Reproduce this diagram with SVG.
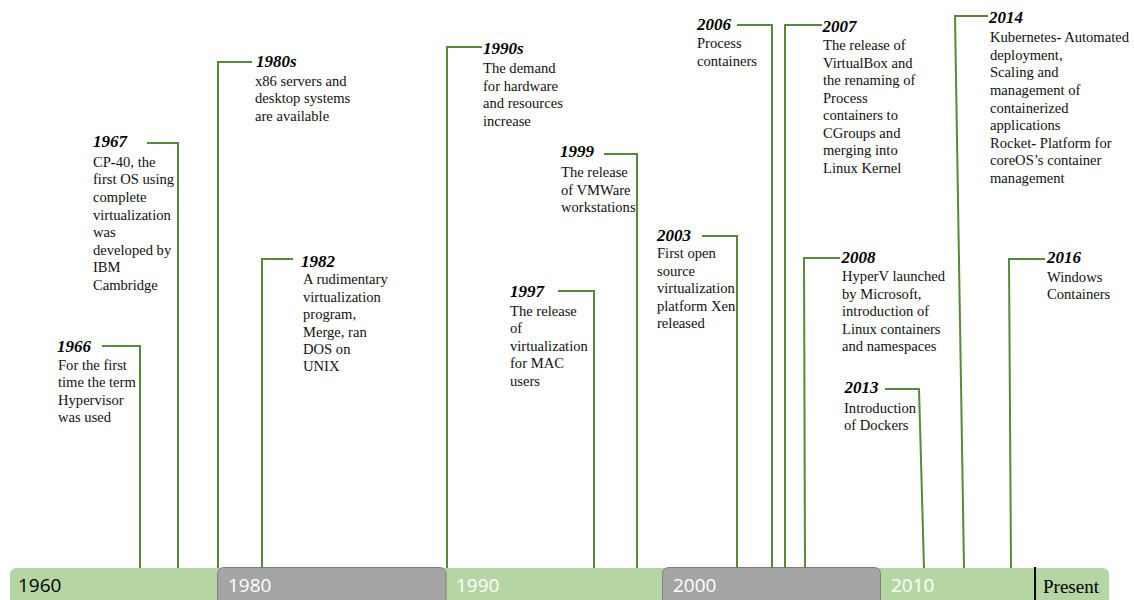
<svg xmlns="http://www.w3.org/2000/svg" width="1134" height="600" viewBox="0 0 1134 600">
<style>
.yr{font-family:"Liberation Serif",serif;font-size:17px;font-weight:bold;font-style:italic;fill:#000}
.bd{font-family:"Liberation Serif",serif;font-size:14.6px;fill:#111}
.cn{fill:none;stroke:#578a38;stroke-width:2}
.bl{font-family:"Open Sans",sans-serif;font-size:19px}
.g{fill:#b5d6a2}
.gr{fill:#a5a5a5;stroke:#7f7f7f;stroke-width:1}
</style>
<rect width="1134" height="600" fill="#fff"/>
<g id="timeline-bar">
<rect class="g" x="10" y="568" width="230" height="45" rx="6"/>
<rect class="g" x="430" y="568" width="250" height="45" rx="6"/>
<rect class="g" x="860" y="568" width="249" height="45" rx="6"/>
<rect class="gr" x="217.5" y="567.5" width="228.5" height="45" rx="6"/>
<rect class="gr" x="662.5" y="567.5" width="218" height="45" rx="6"/>
<line x1="1035" y1="567" x2="1035" y2="600" stroke="#000" stroke-width="2"/>
<text class="bl" x="18" y="592" fill="#000">1960</text>
<text class="bl" x="228" y="592" fill="#fff">1980</text>
<text class="bl" x="456" y="592" fill="#fff">1990</text>
<text class="bl" x="673" y="592" fill="#fff">2000</text>
<text class="bl" x="891" y="592" fill="#fff">2010</text>
<text x="1043" y="592.5" font-family="Liberation Serif, serif" font-size="19" fill="#000">Present</text>
</g>
<g id="connectors">
<path class="cn" d="M102,346 H140 V568"/>
<path class="cn" d="M147,143 H178 V568"/>
<path class="cn" d="M252,62 H218 V568"/>
<path class="cn" d="M293,259 H262 V568"/>
<path class="cn" d="M482,47 H447 V568"/>
<path class="cn" d="M558,291 H594 V568"/>
<path class="cn" d="M604,154 H637 V568"/>
<path class="cn" d="M702,236 H737 V568"/>
<path class="cn" d="M737,25 H772 V568"/>
<path class="cn" d="M822,25 H785 V568"/>
<path class="cn" d="M840,258 H804 L805,568"/>
<path class="cn" d="M885,389 H919 L924,568"/>
<path class="cn" d="M988,16 H955 L964,568"/>
<path class="cn" d="M1045,259 H1009 L1011,568"/>
</g>
<g id="e1966">
<text class="yr" x="57" y="352">1966</text>
<text class="bd" x="58" y="369.5"><tspan x="58">For the first</tspan><tspan x="58" dy="17.5">time the term</tspan><tspan x="58" dy="17.5">Hypervisor</tspan><tspan x="58" dy="17.5">was used</tspan></text>
</g>
<g id="e1967">
<text class="yr" x="93" y="147">1967</text>
<text class="bd" y="166.7"><tspan x="93">CP<tspan font-weight="bold">-</tspan>40, the</tspan><tspan x="93" dy="17.6">first OS using</tspan><tspan x="93" dy="17.6">complete</tspan><tspan x="93" dy="17.6">virtualization</tspan><tspan x="93" dy="17.6">was</tspan><tspan x="93" dy="17.6">developed by</tspan><tspan x="93" dy="17.6">IBM</tspan><tspan x="93" dy="17.6">Cambridge</tspan></text>
</g>
<g id="e1980s">
<text class="yr" x="256" y="67">1980s</text>
<text class="bd" y="86"><tspan x="255">x86 servers and</tspan><tspan x="255" dy="17.4">desktop systems</tspan><tspan x="255" dy="17.4">are available</tspan></text>
</g>
<g id="e1982">
<text class="yr" x="301" y="266.5">1982</text>
<text class="bd" y="284.3"><tspan x="303">A rudimentary</tspan><tspan x="303" dy="17.4">virtualization</tspan><tspan x="303" dy="17.4">program,</tspan><tspan x="303" dy="17.4">Merge, ran</tspan><tspan x="303" dy="17.4">DOS on</tspan><tspan x="303" dy="17.4">UNIX</tspan></text>
</g>
<g id="e1990s">
<text class="yr" x="483" y="54.3">1990s</text>
<text class="bd" y="73.3"><tspan x="483">The demand</tspan><tspan x="483" dy="17.5">for hardware</tspan><tspan x="483" dy="17.5">and resources</tspan><tspan x="483" dy="17.5">increase</tspan></text>
</g>
<g id="e1997">
<text class="yr" x="510" y="296.7">1997</text>
<text class="bd" y="315.5"><tspan x="510">The release</tspan><tspan x="510" dy="17.5">of</tspan><tspan x="510" dy="17.5">virtualization</tspan><tspan x="510" dy="17.5">for MAC</tspan><tspan x="510" dy="17.5">users</tspan></text>
</g>
<g id="e1999">
<text class="yr" x="560" y="157.3">1999</text>
<text class="bd" y="177.3"><tspan x="561">The release</tspan><tspan x="561" dy="17.5">of VMWare</tspan><tspan x="561" dy="17.5">workstations</tspan></text>
</g>
<g id="e2003">
<text class="yr" x="657" y="240.7">2003</text>
<text class="bd" y="258.3"><tspan x="657">First open</tspan><tspan x="657" dy="17.5">source</tspan><tspan x="657" dy="17.5">virtualization</tspan><tspan x="657" dy="17.5">platform Xen</tspan><tspan x="657" dy="17.5">released</tspan></text>
</g>
<g id="e2006">
<text class="yr" x="697" y="30">2006</text>
<text class="bd" y="48.3"><tspan x="697">Process</tspan><tspan x="697" dy="17.7">containers</tspan></text>
</g>
<g id="e2007">
<text class="yr" x="822.5" y="31.7">2007</text>
<text class="bd" y="50"><tspan x="823">The release of</tspan><tspan x="823" dy="17.5">VirtualBox and</tspan><tspan x="823" dy="17.5">the renaming of</tspan><tspan x="823" dy="17.5">Process</tspan><tspan x="823" dy="17.5">containers to</tspan><tspan x="823" dy="17.5">CGroups and</tspan><tspan x="823" dy="17.5">merging into</tspan><tspan x="823" dy="17.5">Linux Kernel</tspan></text>
</g>
<g id="e2008">
<text class="yr" x="841.5" y="262.7">2008</text>
<text class="bd" y="281"><tspan x="842">HyperV launched</tspan><tspan x="842" dy="17.5">by Microsoft,</tspan><tspan x="842" dy="17.5">introduction of</tspan><tspan x="842" dy="17.5">Linux containers</tspan><tspan x="842" dy="17.5">and namespaces</tspan></text>
</g>
<g id="e2013">
<text class="yr" x="844.5" y="393.3">2013</text>
<text class="bd" y="412.5"><tspan x="844">Introduction</tspan><tspan x="844" dy="17.3">of Dockers</tspan></text>
</g>
<g id="e2014">
<text class="yr" x="989" y="23.3">2014</text>
<text class="bd" y="42.3"><tspan x="990">Kubernetes<tspan font-weight="bold">-</tspan> Automated</tspan><tspan x="990" dy="17.55">deployment,</tspan><tspan x="990" dy="17.55">Scaling and</tspan><tspan x="990" dy="17.55">management of</tspan><tspan x="990" dy="17.55">containerized</tspan><tspan x="990" dy="17.55">applications</tspan><tspan x="990" dy="17.55">Rocket<tspan font-weight="bold">-</tspan> Platform for</tspan><tspan x="990" dy="17.55">coreOS’s container</tspan><tspan x="990" dy="17.55">management</tspan></text>
</g>
<g id="e2016">
<text class="yr" x="1047" y="263.3">2016</text>
<text class="bd" y="281.7"><tspan x="1047">Windows</tspan><tspan x="1047" dy="17.6">Containers</tspan></text>
</g>
</svg>
